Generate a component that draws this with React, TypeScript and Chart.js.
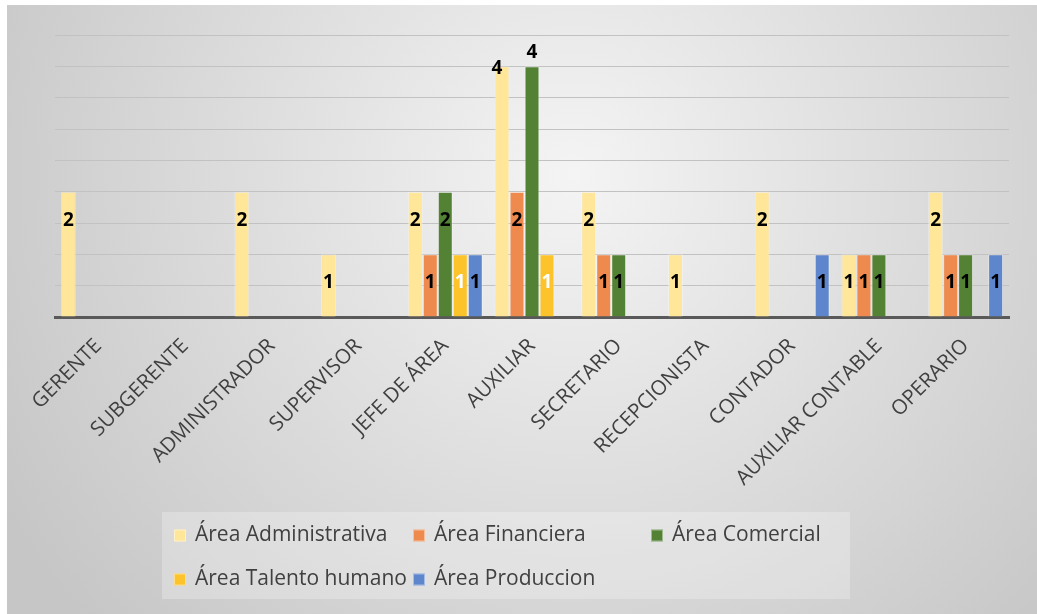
import { useEffect, useRef } from 'react';
import { Chart, registerables } from 'chart.js';

Chart.register(...registerables);

const categories = [
  'GERENTE',
  'SUBGERENTE',
  'ADMINISTRADOR',
  'SUPERVISOR',
  'JEFE DE ÁREA',
  'AUXILIAR',
  'SECRETARIO',
  'RECEPCIONISTA',
  'CONTADOR',
  'AUXILIAR CONTABLE',
  'OPERARIO',
];

const administrativa = [2, null, 2, 1, 2, 4, 2, 1, 2, 1, 2];
const financiera = [null, null, null, null, 1, 2, 1, null, null, 1, 1];
const comercial = [null, null, null, null, 2, 4, 1, null, null, 1, 1];
const talentoHumano = [null, null, null, null, 1, 1, null, null, null, null, null];
const produccion = [null, null, null, null, 1, null, null, null, 1, null, 1];

const seriesNames = [
  'Área Administrativa',
  'Área Financiera',
  'Área Comercial',
  'Área Talento humano',
  'Área Produccion',
];
const seriesValues = [administrativa, financiera, comercial, talentoHumano, produccion];
const seriesColors = ['#FFE699', '#EE8A4D', '#538234', '#FDC32A', '#5E86CC'];
const labelColors = ['#000000', '#000000', '#000000', '#FFFFFF', '#000000'];

const yMax = 4.5;
const yStep = 0.5;

const FONT = '"Open Sans", "DejaVu Sans", sans-serif';

const backgroundPlugin = {
  id: 'bgGradient',
  beforeDraw(chart: any) {
    const { ctx, width, height } = chart;
    ctx.save();
    const g = ctx.createRadialGradient(width * 0.55, height * 0.28, 0, width * 0.55, height * 0.28, 660);
    g.addColorStop(0, '#f4f4f4');
    g.addColorStop(1, '#c6c6c6');
    ctx.fillStyle = g;
    ctx.fillRect(0, 0, width, height);
    ctx.restore();
  },
};

const dataLabelPlugin = {
  id: 'dataLabels',
  afterDatasetsDraw(chart: any) {
    const { ctx } = chart;
    ctx.save();
    ctx.font = `bold 19px ${FONT}`;
    ctx.textAlign = 'center';
    ctx.textBaseline = 'middle';
    chart.data.datasets.forEach((ds: any, di: number) => {
      const meta = chart.getDatasetMeta(di);
      meta.data.forEach((el: any, i: number) => {
        const v = ds.data[i];
        if (v === null || v === undefined) return;
        let x = el.x;
        let y = el.y + 28.5;
        if (v >= 4) {
          if (di === 0) {
            x = el.x - 5;
            y = el.y + 2;
          } else {
            y = el.y - 14;
          }
        }
        ctx.fillStyle = labelColors[di];
        ctx.fillText(String(v), x, y);
      });
    });
    ctx.restore();
  },
};

const legendPlugin = {
  id: 'customLegend',
  afterDraw(chart: any) {
    const { ctx } = chart;
    ctx.save();
    ctx.fillStyle = 'rgba(255,255,255,0.25)';
    ctx.fillRect(155, 507, 688, 87);
    const cols = [167, 406, 644];
    const rows = [530.5, 574.5];
    ctx.font = `21px ${FONT}`;
    ctx.textBaseline = 'middle';
    ctx.textAlign = 'left';
    seriesNames.forEach((name, i) => {
      const x = cols[i % 3];
      const y = rows[Math.floor(i / 3)];
      ctx.fillStyle = seriesColors[i];
      ctx.fillRect(x, y - 6, 12, 12);
      ctx.strokeStyle = 'rgba(255,255,255,0.45)';
      ctx.lineWidth = 1;
      ctx.strokeRect(x + 0.5, y - 5.5, 11, 11);
      ctx.fillStyle = '#404040';
      ctx.fillText(name, x + 21, y);
    });
    ctx.restore();
  },
};

export default function App() {
  const canvasRef = useRef<HTMLCanvasElement | null>(null);

  useEffect(() => {
    if (!canvasRef.current) return;
    const chart = new Chart(canvasRef.current, {
      type: 'bar',
      data: {
        labels: categories,
        datasets: seriesValues.map((vals, i) => ({
          label: seriesNames[i],
          data: vals,
          backgroundColor: seriesColors[i],
          borderColor: 'rgba(255,255,255,0.35)',
          borderWidth: 1,
          categoryPercentage: 0.865,
          barPercentage: 1.0,
        })),
      },
      options: {
        animation: false,
        responsive: true,
        maintainAspectRatio: false,
        layout: { padding: { left: 48, right: 28, top: 30, bottom: 0 } },
        plugins: {
          legend: { display: false },
          tooltip: { enabled: false },
        },
        scales: {
          x: {
            grid: { display: false, drawTicks: false },
            border: { display: true, color: '#595959', width: 3 },
            ticks: {
              autoSkip: false,
              maxRotation: 45,
              minRotation: 45,
              padding: 17,
              labelOffset: 0,
              color: '#404040',
              font: { family: FONT, size: 20.5 },
            },
            afterFit: (scale: any) => {
              scale.height = 297;
            },
          },
          y: {
            min: 0,
            max: yMax,
            ticks: { display: false, stepSize: yStep },
            grid: { color: '#c2c2c2', lineWidth: 1, drawTicks: false },
            border: { display: false },
            afterFit: (scale: any) => {
              scale.width = 0;
            },
          },
        },
      },
      plugins: [backgroundPlugin, dataLabelPlugin, legendPlugin],
    });
    return () => chart.destroy();
  }, []);

  return (
    <div style={{ position: 'absolute', left: 7, top: 5, width: 1030, height: 609 }}>
      <canvas ref={canvasRef} />
    </div>
  );
}
